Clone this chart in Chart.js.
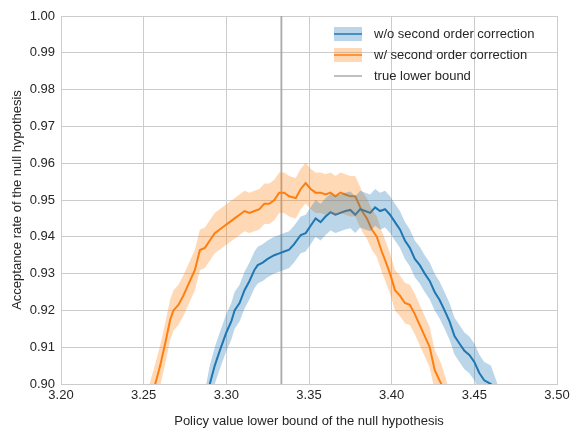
<!DOCTYPE html>
<html><head><meta charset="utf-8">
<script src="https://cdn.jsdelivr.net/npm/chart.js@4"></script>
<style>html,body{margin:0;background:#fff}#c{width:580px;height:433px}</style>
</head><body><div id="c"><canvas id="cv" width="580" height="433"></canvas></div>
<script>
const blueX = [3.283,3.287,3.290,3.293,3.296,3.300,3.303,3.305,3.308,3.311,3.314,3.317,3.319,3.322,3.325,3.329,3.332,3.335,3.338,3.341,3.345,3.348,3.351,3.354,3.357,3.360,3.363,3.366,3.369,3.372,3.375,3.378,3.381,3.384,3.387,3.390,3.393,3.396,3.399,3.402,3.405,3.408,3.411,3.414,3.417,3.420,3.423,3.426,3.429,3.432,3.435,3.438,3.441,3.444,3.447,3.450,3.453,3.456,3.460,3.464];
const blueY = [0.886,0.893,0.900,0.905,0.909,0.914,0.917,0.920,0.922,0.9255,0.928,0.931,0.9323,0.933,0.934,0.935,0.9355,0.936,0.9365,0.938,0.9405,0.941,0.943,0.945,0.944,0.9455,0.9467,0.946,0.9465,0.947,0.9473,0.946,0.9475,0.947,0.9465,0.948,0.947,0.9475,0.946,0.944,0.942,0.939,0.937,0.934,0.9323,0.930,0.928,0.925,0.9228,0.920,0.917,0.913,0.911,0.909,0.9079,0.906,0.903,0.901,0.900,0.895];
const blueErr = [0.005,0.005,0.005,0.005,0.005,0.005,0.005,0.005,0.005,0.005,0.005,0.005,0.005,0.005,0.005,0.005,0.005,0.005,0.005,0.005,0.005,0.005,0.005,0.005,0.005,0.005,0.005,0.005,0.005,0.005,0.005,0.005,0.005,0.005,0.005,0.005,0.005,0.005,0.005,0.005,0.005,0.005,0.005,0.005,0.005,0.005,0.005,0.005,0.005,0.005,0.005,0.005,0.005,0.005,0.005,0.005,0.005,0.005,0.005,0.005];
const orangeX = [3.252,3.257,3.260,3.263,3.266,3.268,3.271,3.274,3.278,3.281,3.284,3.287,3.290,3.293,3.296,3.299,3.302,3.305,3.308,3.311,3.314,3.317,3.320,3.323,3.326,3.329,3.332,3.335,3.338,3.342,3.345,3.348,3.351,3.354,3.357,3.360,3.363,3.366,3.369,3.372,3.375,3.378,3.380,3.382,3.385,3.388,3.391,3.394,3.396,3.399,3.402,3.405,3.408,3.411,3.414,3.417,3.420,3.423,3.426,3.430,3.434];
const orangeY = [0.892,0.900,0.905,0.911,0.9174,0.920,0.9215,0.924,0.928,0.931,0.9364,0.937,0.939,0.941,0.942,0.943,0.944,0.945,0.946,0.947,0.9465,0.947,0.9475,0.949,0.949,0.950,0.952,0.952,0.951,0.9505,0.953,0.9546,0.953,0.952,0.952,0.9515,0.952,0.951,0.952,0.9515,0.951,0.951,0.949,0.947,0.945,0.942,0.940,0.936,0.9337,0.930,0.9255,0.924,0.922,0.9215,0.919,0.916,0.913,0.910,0.9038,0.900,0.894];
const orangeErr = [0.0055,0.0055,0.0055,0.0055,0.0055,0.0055,0.0055,0.0055,0.0055,0.0055,0.0055,0.0055,0.0055,0.0055,0.0055,0.0055,0.0055,0.0055,0.0055,0.0055,0.0055,0.0055,0.0055,0.0055,0.0055,0.0055,0.0055,0.0055,0.0055,0.0055,0.0055,0.0055,0.0055,0.0055,0.0055,0.0055,0.0055,0.0055,0.0055,0.0055,0.0055,0.0055,0.0055,0.0055,0.0055,0.0055,0.0055,0.0055,0.0055,0.0055,0.0055,0.0055,0.0055,0.0055,0.0055,0.0055,0.0055,0.0055,0.0055,0.0055,0.0055];
const trueBound = 3.3333;
const xTicks = [3.20,3.25,3.30,3.35,3.40,3.45,3.50];
const yTicks = [0.90,0.91,0.92,0.93,0.94,0.95,0.96,0.97,0.98,0.99,1.00];
const legendLabels = ['w/o second order correction','w/ second order correction','true lower bound'];
const BLUE='#1f77b4', ORANGE='#ff7f0e';
const pts=(xs,ys)=>xs.map((x,i)=>({x,y:ys[i]}));
const band=(xs,ys,e,s)=>xs.map((x,i)=>({x,y:ys[i]+s*e[i]}));
const FONT="'Liberation Sans', Arial, sans-serif";
const legendPlugin={id:'lg',afterDraw(ch){const c=ch.ctx;const x0=334,ys=[34,55,76];c.save();c.font='13px '+FONT;c.textBaseline='middle';
 [[BLUE,'rgba(31,119,180,0.3)'],[ORANGE,'rgba(255,127,14,0.3)'],['#aaaaaa',null]].forEach((s,i)=>{if(s[1]){c.fillStyle=s[1];c.fillRect(x0,ys[i]-7,28,14);}c.strokeStyle=s[0];c.lineWidth=1.5;c.beginPath();c.moveTo(x0,ys[i]);c.lineTo(x0+28,ys[i]);c.stroke();c.fillStyle='#262626';c.fillText(legendLabels[i],x0+40,ys[i]);});c.restore();}};
const ds=[
 {data:band(blueX,blueY,blueErr,1),borderWidth:0,pointRadius:0,fill:'+1',backgroundColor:'rgba(31,119,180,0.3)'},
 {data:band(blueX,blueY,blueErr,-1),borderWidth:0,pointRadius:0,fill:false},
 {data:band(orangeX,orangeY,orangeErr,1),borderWidth:0,pointRadius:0,fill:'+1',backgroundColor:'rgba(255,127,14,0.3)'},
 {data:band(orangeX,orangeY,orangeErr,-1),borderWidth:0,pointRadius:0,fill:false},
 {data:pts(blueX,blueY),borderColor:BLUE,borderWidth:2,pointRadius:0,fill:false},
 {data:pts(orangeX,orangeY),borderColor:ORANGE,borderWidth:2,pointRadius:0,fill:false},
 {data:[{x:trueBound,y:0.9},{x:trueBound,y:1.0}],borderColor:'#aaaaaa',borderWidth:1.8,pointRadius:0,fill:false}
];
new Chart(document.getElementById('cv'),{type:'line',data:{datasets:ds},plugins:[legendPlugin],
options:{responsive:false,animation:false,devicePixelRatio:1,
 layout:{padding:{left:6,right:23,top:16,bottom:0}},
 plugins:{legend:{display:false},tooltip:{enabled:false}},
 scales:{
  x:{type:'linear',min:3.2,max:3.5,afterBuildTicks:s=>{s.ticks=xTicks.map(v=>({value:v}))},afterFit:s=>{s.height=49},
   ticks:{color:'#262626',font:{family:FONT,size:13},callback:v=>v.toFixed(2),maxRotation:0,padding:4},
   grid:{color:'#cccccc',drawTicks:false},border:{color:'#cccccc'},
   title:{display:true,text:'Policy value lower bound of the null hypothesis',color:'#262626',font:{family:FONT,size:13},padding:{top:0}}},
  y:{min:0.9,max:1.0,afterBuildTicks:s=>{s.ticks=yTicks.map(v=>({value:v}))},afterFit:s=>{s.width=55},
   ticks:{color:'#262626',font:{family:FONT,size:13},callback:v=>v.toFixed(2),padding:6},
   grid:{color:'#cccccc',drawTicks:false},border:{color:'#cccccc'},
   title:{display:true,text:'Acceptance rate of the null hypothesis',color:'#262626',font:{family:FONT,size:13},padding:{bottom:2}}}
 }}});
</script></body></html>
